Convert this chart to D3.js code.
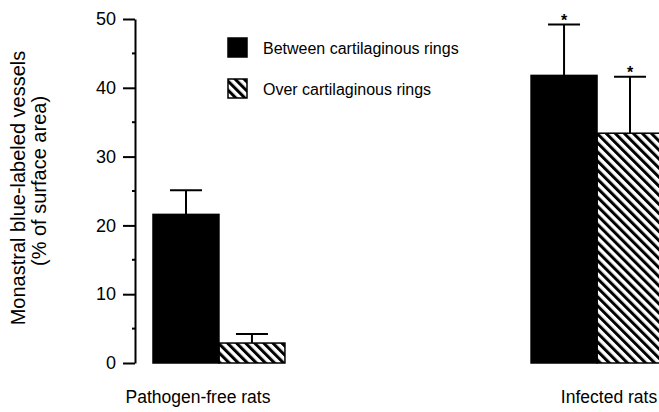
<!DOCTYPE html>
<html lang="en">
<head>
  <meta charset="UTF-8">
  <script src="https://d3js.org/d3.v7.min.js"></script>
  <style>
    body {
      margin: 0;
      padding: 0;
      background-color: #fff;
    }
    svg text {
      font-family: "Liberation Sans", Arial, sans-serif;
      fill: #000;
    }
  </style>
</head>
<body>
  <div id="chart"></div>
  <script>
    // data
    const groups = ["Pathogen-free rats", "Infected rats"];
    const series = ["Between cartilaginous rings", "Over cartilaginous rings"];
    const betweenValues = [21.6, 41.8];
    const overValues = [2.9, 33.4];
    const betweenErr = [25.1, 49.2];
    const overErr = [4.2, 41.6];
    const betweenSig = [false, true];
    const overSig = [false, true];
    const yTicks = [0, 10, 20, 30, 40, 50];

    const width = 659, height = 412;

    const svg = d3.select("#chart")
      .append("svg")
      .attr("width", width)
      .attr("height", height);

    // diagonal hatch
    svg.append("defs")
      .append("pattern")
      .attr("id", "hatch")
      .attr("patternUnits", "userSpaceOnUse")
      .attr("width", 6.4)
      .attr("height", 6.4)
      .attr("patternTransform", "rotate(-45)")
      .append("rect")
      .attr("x", 0)
      .attr("y", 0)
      .attr("width", 3)
      .attr("height", 6.4)
      .attr("fill", "#000");

    const y = d3.scaleLinear().domain([0, 50]).range([363, 19]);

    const x0 = d3.scaleBand()
      .domain(groups)
      .range([153, 663])
      .paddingInner(0.651);

    const x1 = d3.scaleBand()
      .domain(series)
      .range([0, x0.bandwidth()]);

    const rows = groups.map((g, i) => [
      { group: g, key: series[0], value: betweenValues[i], err: betweenErr[i], sig: betweenSig[i] },
      { group: g, key: series[1], value: overValues[i], err: overErr[i], sig: overSig[i] }
    ]).flat();

    const fillFor = k => k === series[0] ? "#000" : "url(#hatch)";

    // y axis
    const axisX = 135;
    const yAxis = svg.append("g")
      .attr("transform", `translate(${axisX},0)`)
      .call(d3.axisLeft(y).tickValues(yTicks).tickSize(12).tickPadding(7).tickSizeOuter(0));
    yAxis.select(".domain").attr("stroke-width", 2);
    yAxis.selectAll(".tick line").attr("stroke-width", 2);
    yAxis.selectAll(".tick text")
      .style("font-size", "18px")
      .style("font-family", "'Liberation Sans', Arial, sans-serif");

    // minor ticks at the fives
    svg.append("g")
      .selectAll("line")
      .data(d3.range(5, 50, 10))
      .enter()
      .append("line")
      .attr("x1", axisX - 3)
      .attr("x2", axisX)
      .attr("y1", d => y(d))
      .attr("y2", d => y(d))
      .attr("stroke", "#000")
      .attr("stroke-width", 2);

    // y title, two lines
    svg.append("text")
      .attr("transform", "translate(25,188) rotate(-90)")
      .attr("text-anchor", "middle")
      .style("font-size", "20px")
      .text("Monastral blue-labeled vessels");
    svg.append("text")
      .attr("transform", "translate(46,181) rotate(-90)")
      .attr("text-anchor", "middle")
      .style("font-size", "20px")
      .text("(% of surface area)");

    // bars
    const bars = svg.append("g");
    bars.selectAll("rect")
      .data(rows)
      .enter()
      .append("rect")
      .attr("x", d => x0(d.group) + x1(d.key))
      .attr("y", d => y(d.value))
      .attr("width", x1.bandwidth())
      .attr("height", d => y(0) - y(d.value))
      .attr("fill", d => fillFor(d.key))
      .attr("stroke", "#000")
      .attr("stroke-width", 1.5);

    // error bars (upper only)
    const capW = 32;
    const eb = svg.append("g").attr("stroke", "#000").attr("stroke-width", 2);
    rows.forEach(d => {
      const cx = x0(d.group) + x1(d.key) + x1.bandwidth() / 2;
      eb.append("line")
        .attr("x1", cx).attr("x2", cx)
        .attr("y1", y(d.value)).attr("y2", y(d.err));
      eb.append("line")
        .attr("x1", cx - capW / 2).attr("x2", cx + capW / 2)
        .attr("y1", y(d.err)).attr("y2", y(d.err));
      if (d.sig) {
        svg.append("text")
          .attr("x", cx)
          .attr("y", y(d.err) + 1)
          .attr("text-anchor", "middle")
          .style("font-size", "16px")
          .style("font-weight", "bold")
          .text("*");
      }
    });

    // group labels
    const labelDx = [-21, 12];
    svg.append("g")
      .selectAll("text")
      .data(groups)
      .enter()
      .append("text")
      .attr("x", (d, i) => x0(d) + x0.bandwidth() / 2 + labelDx[i])
      .attr("y", 403)
      .attr("text-anchor", "middle")
      .style("font-size", "17.5px")
      .text(d => d);

    // legend
    const legend = svg.append("g");
    series.forEach((s, i) => {
      const ly = 38 + i * 41;
      legend.append("rect")
        .attr("x", 228)
        .attr("y", ly)
        .attr("width", 19)
        .attr("height", 19)
        .attr("fill", fillFor(s))
        .attr("stroke", "#000")
        .attr("stroke-width", 1.5);
      legend.append("text")
        .attr("x", 263)
        .attr("y", ly + 16)
        .style("font-size", "16px")
        .text(s);
    });
  </script>
</body>
</html>
